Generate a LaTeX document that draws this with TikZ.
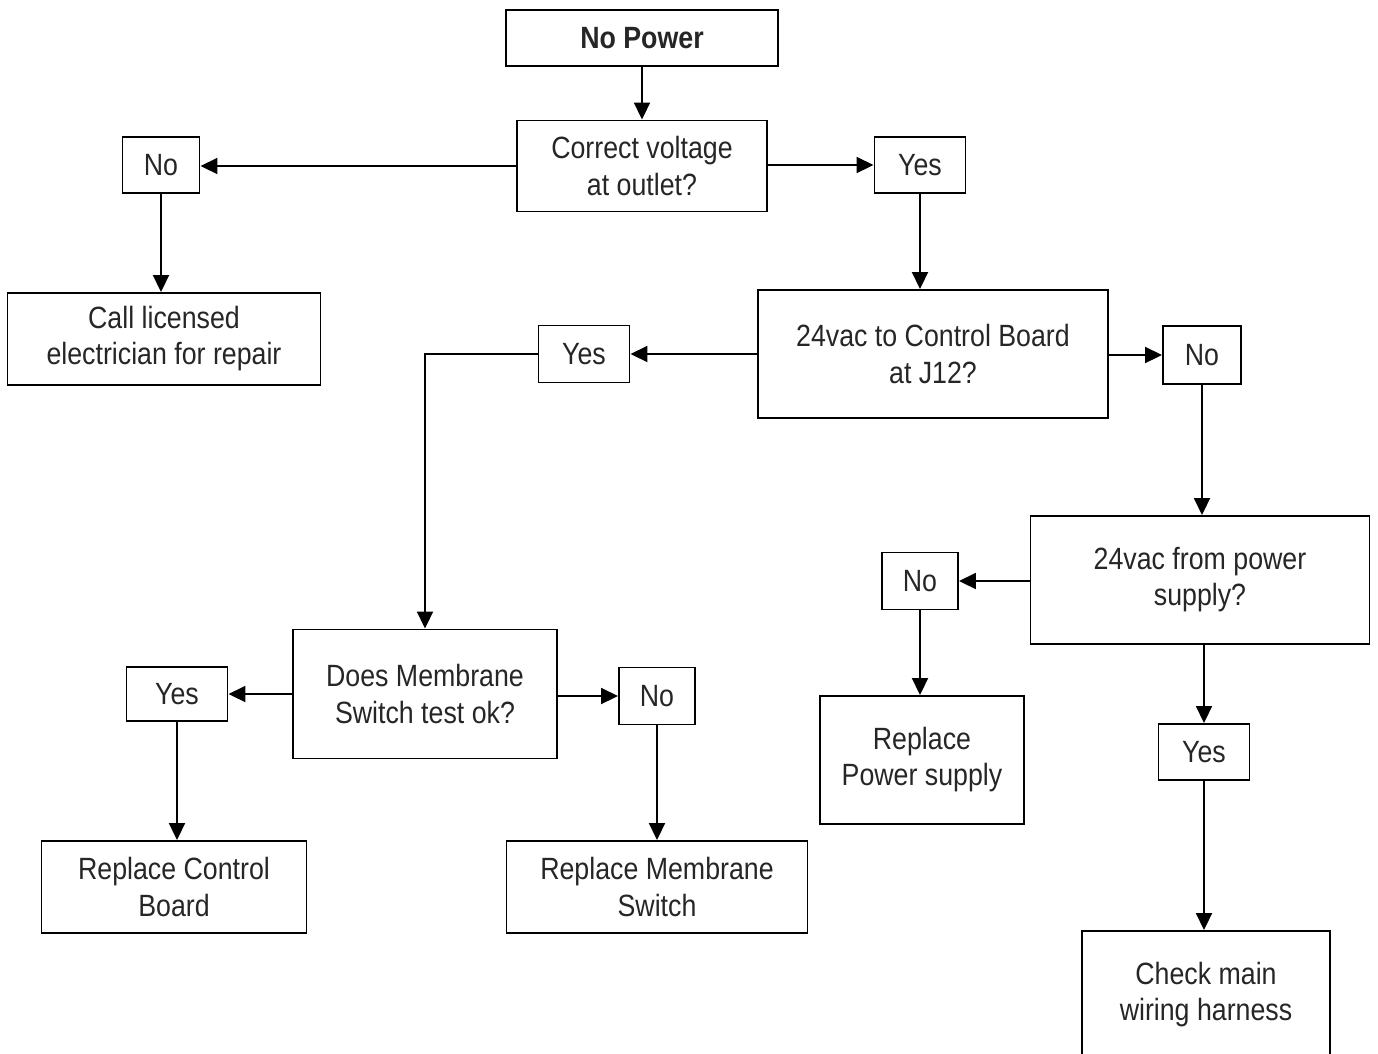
\documentclass[tikz,border=0pt]{standalone}
\usepackage{fontspec}
\setmainfont{Liberation Sans}[FakeStretch=0.87]
\usetikzlibrary{arrows.meta}

\tikzset{
    box/.style={draw, line width=1.1pt, align=center, inner sep=0pt,
        font=\fontsize{17.5}{20.5}\selectfont, text=black!85},
    flow/.style={-{Triangle[length=0.34cm,width=0.32cm]}, line width=1.1pt}
}

\begin{document}
\begin{tikzpicture}
    \useasboundingbox (0,0) rectangle (27.56,-21.06);

    % start and first question
    \node[box, minimum width=5.44cm, minimum height=1.12cm, font=\fontsize{17.5}{20.5}\selectfont\bfseries] (power) at (12.84,-0.76) {No Power};
    \node[box, minimum width=5.0cm, minimum height=1.82cm] (voltage) at (12.84,-3.32) {Correct voltage\\at outlet?};
    \node[box, minimum width=1.54cm, minimum height=1.12cm] (noA) at (3.22,-3.30) {No};
    \node[box, minimum width=1.82cm, minimum height=1.12cm] (yesA) at (18.40,-3.30) {Yes};
    \node[box, minimum width=6.26cm, minimum height=1.84cm] (call) at (3.28,-6.78) {Call licensed\\electrician for repair};

    % control board
    \node[box, minimum width=7.0cm, minimum height=2.56cm] (board) at (18.66,-7.08) {24vac to Control Board\\at J12?};
    \node[box, minimum width=1.82cm, minimum height=1.14cm] (yesB) at (11.68,-7.08) {Yes};
    \node[box, minimum width=1.56cm, minimum height=1.16cm] (noB) at (24.04,-7.10) {No};

    % power supply
    \node[box, minimum width=6.78cm, minimum height=2.56cm] (supply) at (24.0,-11.6) {24vac from power\\supply?};
    \node[box, minimum width=1.52cm, minimum height=1.14cm] (noC) at (18.40,-11.62) {No};
    \node[box, minimum width=4.08cm, minimum height=2.56cm] (replps) at (18.44,-15.2) {Replace\\Power supply};
    \node[box, minimum width=1.82cm, minimum height=1.12cm] (yesC) at (24.08,-15.04) {Yes};
    \node[box, minimum width=4.96cm, minimum height=2.56cm] (harness) at (24.12,-19.9) {Check main\\wiring harness};

    % membrane switch
    \node[box, minimum width=5.28cm, minimum height=2.58cm] (membrane) at (8.50,-13.88) {Does Membrane\\Switch test ok?};
    \node[box, minimum width=2.02cm, minimum height=1.08cm] (yesD) at (3.54,-13.88) {Yes};
    \node[box, minimum width=1.52cm, minimum height=1.14cm] (noD) at (13.14,-13.92) {No};
    \node[box, minimum width=5.30cm, minimum height=1.84cm] (replcb) at (3.48,-17.74) {Replace Control\\Board};
    \node[box, minimum width=6.02cm, minimum height=1.84cm] (replms) at (13.14,-17.74) {Replace Membrane\\Switch};

    % connectors
    \draw[flow] (power) -- (voltage);
    \draw[flow] (voltage.west) -- (voltage.west -| noA.east);
    \draw[flow] (voltage.east |- yesA) -- (yesA.west);
    \draw[flow] (noA) -- (noA |- call.north);
    \draw[flow] (yesA) -- (yesA |- board.north);
    \draw[flow] (board.west) -- (yesB.east);
    \draw[flow] (yesB.west) -| (membrane.north);
    \draw[flow] (board.east |- noB) -- (noB.west);
    \draw[flow] (noB) -- (noB |- supply.north);
    \draw[flow] (supply.west |- noC) -- (noC.east);
    \draw[flow] (noC) -- (noC |- replps.north);
    \draw[flow] (supply.south -| yesC) -- (yesC.north);
    \draw[flow] (yesC) -- (yesC |- harness.north);
    \draw[flow] (membrane.west) -- (yesD.east);
    \draw[flow] (membrane.east |- noD) -- (noD.west);
    \draw[flow] (yesD) -- (yesD |- replcb.north);
    \draw[flow] (noD) -- (replms);
\end{tikzpicture}
\end{document}
